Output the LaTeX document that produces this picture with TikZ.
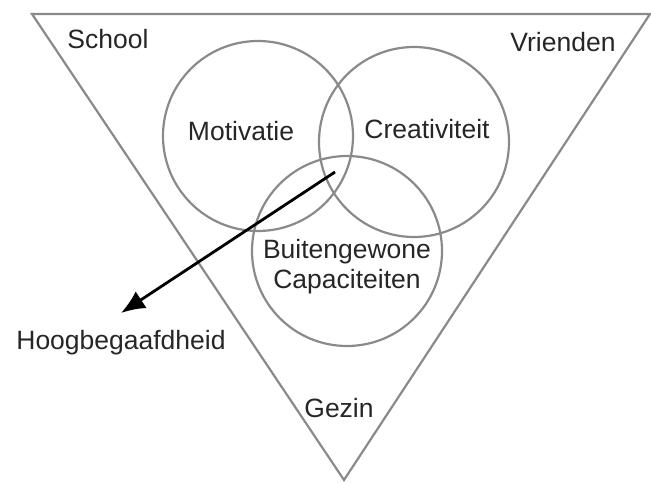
\documentclass[tikz,border=0pt]{standalone}
\usepackage{fontspec}
\setmainfont{Liberation Sans}
\usetikzlibrary{arrows.meta}
\definecolor{linegray}{HTML}{8A8A8A}
\definecolor{textgray}{HTML}{262626}
\begin{document}
\begin{tikzpicture}[x=1pt,y=-1pt,
  ring/.style={circle, draw=linegray, line width=2.2pt, minimum size=190pt, inner sep=0pt},
  lbl/.style={text=textgray, font=\fontsize{26.5}{30}\selectfont, inner sep=0pt, align=center},
  arr/.style={-{Latex[length=24pt,width=20pt]}, line width=2.8pt, black}]
\useasboundingbox (0,0) rectangle (651,484);
\draw[linegray, line width=2.2pt, line join=miter] (32,14) -- (650,14) -- (344,480) -- cycle;
\node[ring] (cm) at (258,136) {};
\node[ring] (cc) at (414,142) {};
\node[ring] (cb) at (347,251) {};
\node[lbl] (school) at (108,39) {School};
\node[lbl] (vrienden) at (563,42) {Vrienden};
\node[lbl] (gezin) at (339,408) {Gezin};
\node[lbl] (mot) at (241,131) {Motivatie};
\node[lbl] (cre) at (427,129) {Creativiteit};
\node[lbl] (bui) at (347,267) {Buitengewone\\Capaciteiten};
\node[lbl] (hoog) at (121,343) {Hoogbegaafdheid};
\coordinate (s) at (335,172);
\coordinate (tip) at (121,313);
\draw[arr] (s) -- (tip);
\end{tikzpicture}
\end{document}
